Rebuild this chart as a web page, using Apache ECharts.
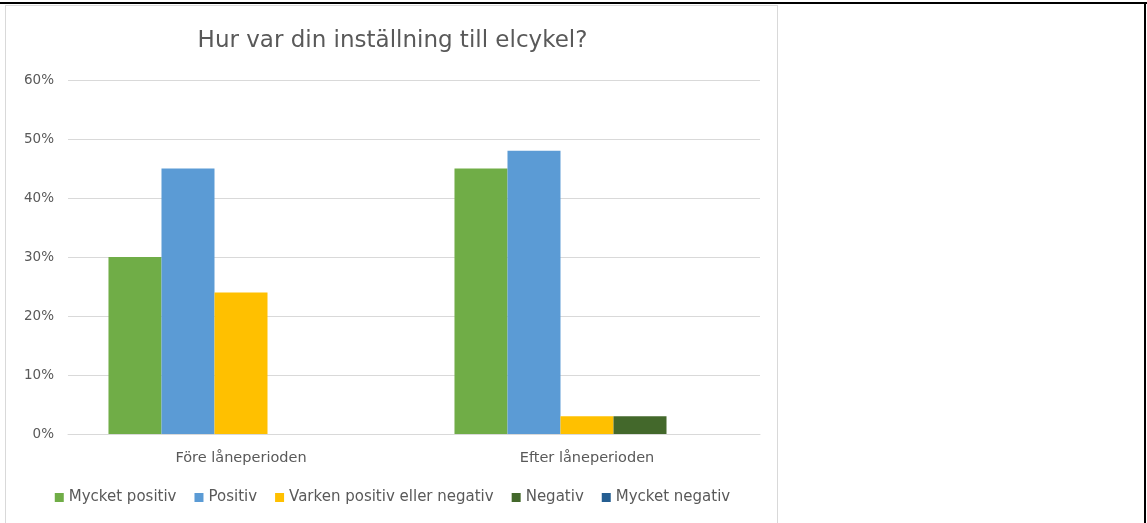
<!DOCTYPE html>
<html>
<head>
<meta charset="utf-8">
<script src="https://cdn.jsdelivr.net/npm/echarts@6/dist/echarts.min.js"></script>
<style>
  html, body { margin: 0; padding: 0; background: #fff; width: 1147px; height: 523px; overflow: hidden; }
  #frame { position: absolute; left: 5px; top: 5px; width: 773px; height: 530px; border: 1px solid #d9d9d9; box-sizing: border-box; }
  #chart { position: absolute; left: 5px; top: 5px; width: 775px; height: 518px; }
  .blk { position: absolute; background: #000; }
</style>
</head>
<body>
<div class="blk" style="left:0;top:2px;width:1147px;height:2px;"></div>
<div class="blk" style="left:1144px;top:2px;width:2px;height:521px;"></div>
<div id="frame"></div>
<div id="chart"></div>
<script>
const titleText = 'Hur var din inställning till elcykel?';
const categories = ['Före låneperioden', 'Efter låneperioden'];
const seriesNames = ['Mycket positiv', 'Positiv', 'Varken positiv eller negativ', 'Negativ', 'Mycket negativ'];
const mycketPositiv = [30, 45];
const positiv = [45, 48];
const varken = [24, 3];
const negativ = [0, 3];
const mycketNegativ = [0, 0];
const seriesColors = ['#70AD47', '#5B9BD5', '#FFC000', '#43682B', '#255E91'];
const yTicks = [0, 10, 20, 30, 40, 50, 60];

const seriesData = [mycketPositiv, positiv, varken, negativ, mycketNegativ];
const FONT = '"DejaVu Sans", sans-serif';
const chart = echarts.init(document.getElementById('chart'), null, { renderer: 'canvas' });
chart.setOption({
  animation: false,
  title: {
    text: titleText,
    left: 'center',
    top: 20,
    textStyle: { fontFamily: FONT, fontSize: 23, fontWeight: 'normal', color: '#595959' }
  },
  legend: {
    data: seriesNames,
    bottom: 13,
    left: 'center',
    itemWidth: 9,
    itemHeight: 9,
    itemGap: 18,
    icon: 'rect',
    textStyle: { fontFamily: FONT, fontSize: 15, color: '#595959' }
  },
  grid: { left: 63, right: 20, top: 75, bottom: 89, containLabel: false },
  xAxis: {
    type: 'category',
    data: categories,
    axisLine: { lineStyle: { color: '#d9d9d9', width: 1 } },
    axisTick: { show: false },
    axisLabel: { fontFamily: FONT, fontSize: 14.5, color: '#595959', margin: 17 }
  },
  yAxis: {
    type: 'value',
    min: yTicks[0],
    max: yTicks[yTicks.length - 1],
    interval: 10,
    axisLine: { show: false },
    axisTick: { show: false },
    splitLine: { lineStyle: { color: '#d9d9d9', width: 1 } },
    axisLabel: { fontFamily: FONT, fontSize: 13.5, color: '#595959', margin: 14, formatter: v => v + '%' }
  },
  series: seriesNames.map((name, i) => ({
    name: name,
    type: 'bar',
    data: seriesData[i],
    barGap: '0%',
    barCategoryGap: '23.4%',
    itemStyle: { color: seriesColors[i] }
  }))
});
</script>
</body>
</html>
